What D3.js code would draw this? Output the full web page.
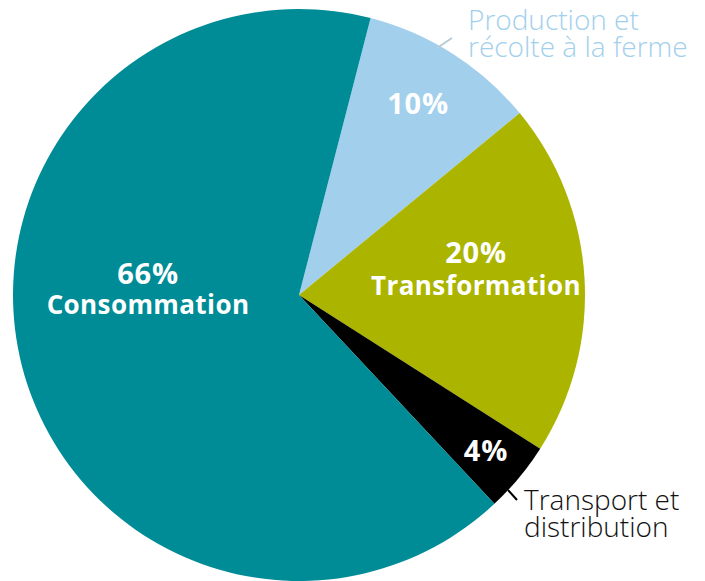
<!DOCTYPE html>
<html><head><meta charset="utf-8">
<script src="https://cdn.jsdelivr.net/npm/d3@7"></script>
<style>body{margin:0;background:#fff}svg{display:block}</style>
</head><body>
<svg id="c" width="705" height="581"></svg>
<script>
const categories = ["Production et récolte à la ferme", "Transformation", "Transport et distribution", "Consommation"];
const values = [10, 20, 4, 66];
const pctLabels = ["10%", "20%", "4%", "66%"];
const colors = ["#A2D0EC", "#ABB500", "#000000", "#008C96"];

const svg = d3.select("#c");
const cx = 299, cy = 295, r = 286;
const start = 14.5 * Math.PI / 180;
const pie = d3.pie().sort(null).value(d => d).startAngle(start).endAngle(start + 2 * Math.PI);
const arcs = pie(values);
const arc = d3.arc().innerRadius(0).outerRadius(r);
const g = svg.append("g").attr("transform", `translate(${cx},${cy})`);
g.selectAll("path").data(arcs).enter().append("path")
  .attr("d", arc).attr("fill", (d, i) => colors[i]);

const bold = "'Open Sans', sans-serif";
const inside = [
  {lines:[pctLabels[0]], x:418, y:[114]},
  {lines:[pctLabels[1], categories[1]], x:476, y:[263, 295]},
  {lines:[pctLabels[2]], x:486, y:[461]},
  {lines:[pctLabels[3], "Consommation"], x:148, y:[284, 314]}
];
inside.forEach(o => {
  o.lines.forEach((t, k) => {
    const isPct = t.endsWith("%");
    svg.append("text").attr("x", o.x).attr("y", o.y[k])
      .attr("text-anchor", "middle").attr("fill", "#fff")
      .attr("font-family", bold).attr("font-weight", 700)
      .attr("font-size", isPct ? 29 : 26).attr("letter-spacing", isPct ? 0.8 : 0.4).text(t);
  });
});

const light = "'Open Sans', sans-serif";
svg.append("line").attr("x1", 437).attr("y1", 48).attr("x2", 452).attr("y2", 38)
  .attr("stroke", "#B7CCD6").attr("stroke-width", 2);
[["Production et", 30], ["récolte à la ferme", 57]].forEach(([t, y]) => {
  svg.append("text").attr("x", 468).attr("y", y).attr("fill", "#A2D0EC")
    .attr("font-family", light).attr("font-weight", 300).attr("font-size", 28).text(t);
});
svg.append("line").attr("x1", 508).attr("y1", 490).attr("x2", 517).attr("y2", 500)
  .attr("stroke", "#000").attr("stroke-width", 2);
[["Transport et", 510], ["distribution", 537]].forEach(([t, y]) => {
  svg.append("text").attr("x", 524).attr("y", y).attr("fill", "#111")
    .attr("font-family", light).attr("font-weight", 300).attr("font-size", 28).text(t);
});
</script>
</body></html>
